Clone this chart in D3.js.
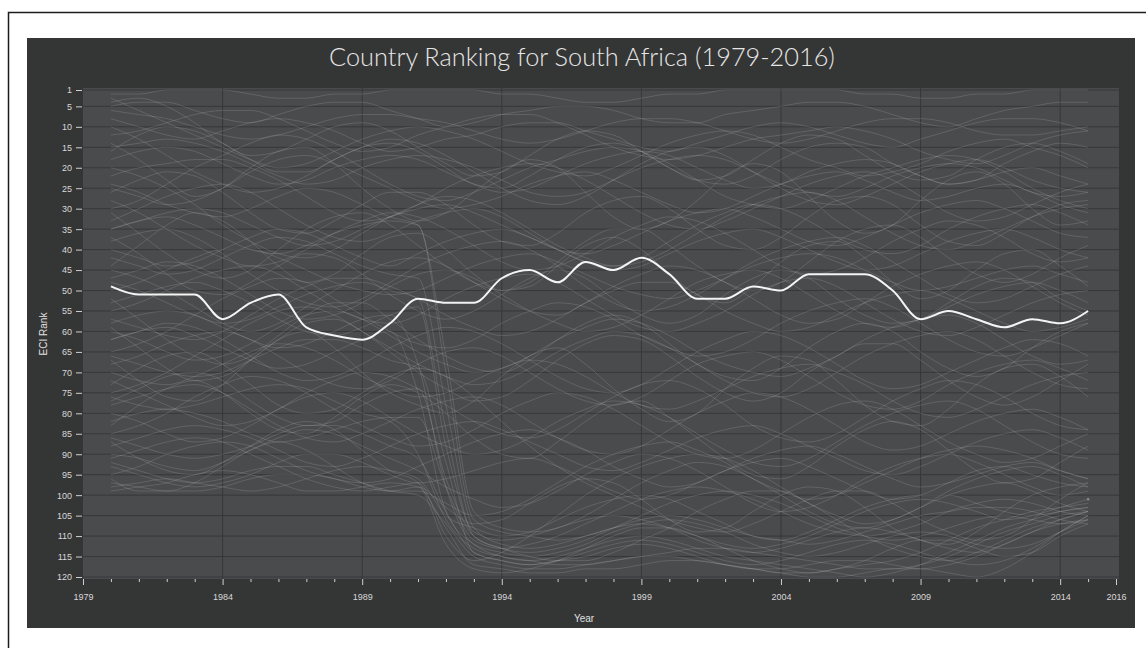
<!DOCTYPE html>
<html>
<head>
<meta charset="utf-8">
<script src="https://cdn.jsdelivr.net/npm/d3@7"></script>
<style>
  body { margin: 0; background: #fff; }
  #graph svg { display: block; }
  .axis text { font-family: 'Liberation Sans', Arial, sans-serif; font-size: 9px; fill: #d8d8d8; }
  .axis line { stroke: #cfcfcf; }
  .axis path { display: none; }
</style>
</head>
<body>
<div id="graph"></div>
<script>
'use strict';

let WIDTH = 1146;
let HEIGHT = 648;
let PLOT = { left: 83, right: 1119, top: 88, bottom: 579 };

let TITLE = 'Country Ranking for South Africa (1979-2016)';

let years = [1980, 1981, 1982, 1983, 1984, 1985, 1986, 1987, 1988, 1989,
             1990, 1991, 1992, 1993, 1994, 1995, 1996, 1997, 1998, 1999,
             2000, 2001, 2002, 2003, 2004, 2005, 2006, 2007, 2008, 2009,
             2010, 2011, 2012, 2013, 2014, 2015];

// South Africa, ECI rank per year
let southAfrica = [49, 51, 51, 51, 57, 53, 51, 59, 61, 62,
                   58, 52, 53, 53, 47, 45, 48, 43, 45, 42,
                   46, 52, 52, 49, 50, 46, 46, 46, 50, 57,
                   55, 57, 59, 57, 58, 55];

// the other countries, same years
let otherCountries = [
  [2,2,1,1,1,2,3,3,2,2,1,1,1,1,2,2,3,4,4,3,2,2,1,1,1,1,1,2,2,3,3,2,2,1,1,1],
  [5,4,4,6,8,9,7,5,4,4,6,8,10,9,7,6,5,5,6,8,9,9,7,6,5,4,4,5,7,9,10,8,6,5,4,4],
  [8,10,12,13,11,9,8,9,11,14,16,15,13,12,10,9,9,11,13,15,16,14,12,10,9,10,12,14,15,13,11,9,8,8,9,11],
  [12,11,9,7,6,6,8,11,14,16,15,12,10,8,7,7,9,12,15,17,18,17,15,13,12,11,10,11,13,16,18,19,17,14,12,11],
  [18,16,15,16,19,22,24,23,20,18,17,18,21,24,26,25,22,19,17,16,17,20,23,25,24,21,19,18,19,22,24,23,21,20,22,24],
  [25,27,29,28,25,21,18,17,19,22,25,28,30,29,27,24,22,21,23,26,29,31,30,27,24,22,21,23,26,28,27,25,24,26,29,31],
  [3,6,9,12,15,18,20,19,16,13,11,10,11,13,16,19,21,22,20,17,14,12,11,12,15,18,20,22,21,19,16,14,13,15,17,20],
  [30,28,24,20,17,14,12,13,16,20,24,27,28,26,23,20,18,16,15,16,19,23,27,29,30,28,25,22,20,18,17,18,21,25,28,30],
  [35,33,31,30,31,34,37,39,38,35,32,30,29,31,34,37,40,41,39,36,33,31,30,32,35,38,39,37,34,31,29,28,30,33,36,37],
  [40,42,44,43,40,37,35,36,39,42,44,41,38,36,35,37,40,43,45,44,41,38,36,35,37,40,43,45,44,41,38,36,35,37,40,42],
  [45,47,50,54,58,60,58,54,50,46,43,42,44,48,52,55,56,53,49,46,44,45,48,52,56,58,57,53,49,46,44,43,45,49,53,56],
  [55,53,50,47,45,44,46,50,54,57,58,56,52,49,47,46,48,52,56,59,60,58,55,51,48,47,49,53,57,60,61,59,56,53,51,50],
  [60,62,65,67,66,63,59,56,55,57,61,65,68,70,69,66,62,59,57,58,61,65,68,70,71,69,66,62,59,57,56,58,62,66,68,67],
  [65,63,60,56,52,49,47,48,52,56,60,63,64,62,58,55,53,54,57,61,64,66,65,62,58,55,53,52,54,58,62,65,66,64,61,58],
  [70,72,73,71,68,65,63,64,67,71,74,76,75,72,69,67,68,71,75,78,79,77,74,71,69,68,70,73,77,80,81,79,76,73,71,70],
  [38,36,35,37,41,46,50,53,54,52,48,44,41,39,38,40,44,49,53,55,54,51,47,43,40,38,37,39,43,47,51,53,52,49,46,44],
  [75,73,70,66,62,58,55,54,56,60,64,68,71,73,72,69,65,62,60,61,64,68,72,75,76,74,70,66,63,61,60,62,66,70,73,74],
  [50,48,45,42,40,40,42,45,48,50,51,50,47,44,42,41,43,46,49,51,52,50,47,44,42,41,42,45,48,50,49,47,45,44,46,48],
  [28,31,35,39,42,44,43,40,36,33,31,32,35,39,43,45,44,41,37,34,32,33,36,40,44,46,45,42,38,35,33,34,37,41,43,42],
  [62,60,58,59,62,66,70,72,71,68,64,61,59,60,63,67,71,74,75,73,69,65,62,60,61,64,68,72,74,73,70,67,64,62,63,66],
  [80,82,85,87,86,83,79,76,75,77,81,85,88,90,89,86,82,79,77,78,81,85,89,92,93,91,87,83,80,78,77,79,83,87,90,91],
  [85,83,80,76,73,71,72,75,79,83,86,88,87,84,80,77,75,76,79,83,87,90,91,89,85,81,78,77,79,83,87,90,92,91,88,85],
  [90,91,93,94,92,89,86,84,85,88,91,94,98,101,103,102,99,95,92,90,91,94,98,102,104,103,100,96,93,91,90,92,95,98,100,99],
  [95,93,90,88,87,88,91,94,96,97,96,93,90,87,85,84,86,89,93,96,98,97,94,91,89,88,90,93,96,98,97,95,93,92,94,96],
  [72,75,78,81,83,82,79,75,72,70,71,74,78,82,85,86,84,80,76,73,72,74,78,83,86,87,85,81,77,74,72,73,76,80,83,84],
  [78,76,74,73,75,79,83,86,87,85,82,79,77,76,78,82,86,89,90,88,84,80,77,75,76,79,83,87,89,88,85,82,80,79,81,84],
  [98,97,96,97,98,99,98,96,94,93,94,96,105,108,110,109,106,103,101,100,101,104,107,110,111,109,106,103,101,100,100,102,104,105,104,103],
  [88,86,84,83,84,86,89,92,93,91,88,85,83,82,84,87,90,93,94,92,89,86,84,83,85,88,91,94,95,93,90,87,85,84,86,89],
  [68,66,63,61,60,62,66,70,73,74,72,68,65,64,66,70,74,77,78,76,72,68,66,65,67,71,75,78,79,77,73,70,68,67,69,72],
  [93,95,97,98,97,95,92,90,90,92,95,97,96,94,92,91,93,96,99,101,100,97,94,92,91,93,96,99,101,100,97,94,93,95,97,98],
  [20,22,25,29,34,38,41,42,40,36,32,29,27,28,31,35,39,42,44,43,40,36,32,29,27,26,28,32,36,39,40,38,35,32,30,29],
  [10,13,17,21,24,26,25,22,18,15,13,14,17,21,25,28,29,27,23,19,16,15,17,21,25,28,29,27,24,21,19,18,20,23,25,26],
  [33,30,27,25,24,26,30,34,37,38,36,33,31,30,32,36,40,43,44,42,38,34,31,29,30,33,37,40,41,39,35,32,30,29,31,34],
  [47,45,43,44,47,51,55,57,56,53,49,46,45,47,51,55,58,60,59,56,52,48,46,45,47,51,55,58,59,57,54,51,49,48,50,53],
  [57,59,61,62,60,56,52,49,47,47,49,52,56,59,61,60,57,53,50,48,48,51,55,58,60,59,56,53,51,50,52,55,58,60,59,57],
  [97,98,99,99,98,96,95,95,96,98,99,99,102,105,104,101,97,93,90,88,87,89,92,96,99,101,100,97,94,91,89,88,89,91,94,96],
  [91,89,87,86,87,90,93,96,98,99,98,97,110,116,114,110,105,100,96,93,91,90,91,94,98,102,105,107,106,103,99,96,94,93,95,98],
  [15,14,13,14,16,19,22,24,23,20,18,17,18,20,23,26,27,26,23,20,18,17,18,21,24,26,27,25,22,20,19,20,23,26,27,26],
  [6,7,8,10,12,13,12,10,8,7,7,8,9,11,13,14,13,11,9,8,8,9,11,13,14,13,11,9,8,8,9,11,12,12,11,10],
  [22,20,19,18,18,20,23,27,31,33,32,29,25,22,20,19,20,23,27,31,34,35,33,30,27,24,22,21,23,27,31,33,32,29,26,24],
  [42,44,46,45,42,39,37,38,41,44,46,47,78,108,112,113,112,110,108,107,108,110,112,113,112,110,107,104,102,101,102,104,106,105,103,101],
  [35,33,32,34,37,40,41,39,36,34,33,34,70,106,109,110,111,110,108,106,105,106,108,110,111,112,111,109,107,105,104,103,103,104,106,107],
  [58,56,55,56,59,62,64,63,60,57,56,68,98,112,114,115,114,112,109,107,106,107,109,112,114,115,114,112,110,109,110,112,113,112,109,106],
  [66,68,70,71,70,67,64,62,62,64,67,69,92,114,116,117,116,114,112,111,112,114,116,117,116,114,112,111,112,114,116,117,116,113,109,105],
  [48,50,53,56,58,57,54,51,49,48,50,52,84,110,113,114,113,111,108,105,102,100,99,100,102,105,108,110,111,110,108,106,105,106,107,106],
  [76,78,79,78,76,74,73,74,77,80,82,90,106,113,115,116,117,117,116,115,114,113,113,114,115,116,117,118,118,117,115,112,109,107,105,104],
  [82,80,79,80,82,85,87,86,84,82,81,81,98,111,113,112,110,107,104,101,99,98,99,101,104,107,109,110,109,107,104,102,101,102,104,105],
  [24,26,29,31,32,30,27,25,26,29,32,34,66,104,108,109,108,105,101,97,94,92,93,96,100,104,107,108,106,103,100,98,97,99,102,104],
  [92,94,96,97,96,94,93,93,95,97,99,100,107,115,117,118,118,117,116,115,115,116,117,118,119,119,118,117,116,114,111,108,106,104,103,102],
  [62,60,59,61,64,67,69,68,65,62,60,75,104,112,115,116,115,113,111,110,111,113,115,116,117,118,119,120,119,117,114,111,108,106,104,103],
  [53,51,49,48,50,53,57,60,61,59,56,54,88,109,111,110,108,106,105,106,108,111,113,114,113,111,109,108,109,111,113,114,112,109,106,104],
  [86,88,90,91,90,88,85,83,83,85,88,91,104,114,116,117,116,115,113,112,113,115,117,118,118,117,116,116,117,118,117,115,112,109,107,106],
  [14,18,23,27,25,20,16,15,19,25,30,33,31,26,21,18,20,26,32,35,33,28,22,19,21,27,33,36,34,28,23,21,24,30,34,33],
  [44,39,34,31,33,38,44,48,46,41,37,36,40,46,50,49,44,39,37,40,46,51,53,49,43,39,38,42,48,52,50,45,41,40,44,49],
  [67,72,76,77,73,67,62,60,64,70,75,78,80,77,71,66,64,68,74,79,82,80,74,69,66,67,72,78,82,83,79,73,69,68,71,76],
  [83,78,74,72,75,80,84,85,81,76,73,75,80,86,90,91,87,82,78,77,81,86,91,95,96,93,88,84,82,84,89,94,97,96,92,88],
  [96,99,99,97,93,89,87,89,93,97,99,98,103,107,106,102,98,96,97,101,106,109,108,104,100,98,99,103,108,111,112,109,104,100,98,97],
  [31,36,41,45,47,45,40,35,32,31,34,39,44,48,50,48,43,38,35,35,39,44,48,50,48,43,38,35,34,37,42,46,48,46,42,39],
  [52,57,62,66,68,66,61,56,53,53,57,62,66,69,70,67,62,58,56,58,63,68,71,72,69,64,60,58,60,65,69,71,69,64,60,58],
  [4,3,5,9,14,17,16,13,10,9,11,15,19,22,21,17,13,11,12,16,20,23,22,18,14,12,13,17,21,23,22,18,15,14,16,19],
  [73,69,66,65,68,73,78,80,79,75,71,69,71,76,82,88,93,97,100,103,106,108,109,107,104,101,99,99,102,106,109,111,110,106,101,97],
  [59,64,69,72,71,67,62,58,57,60,65,70,74,77,76,72,67,63,61,62,66,71,75,77,75,70,66,63,63,67,72,76,78,76,72,68],
  [87,91,94,95,92,88,84,82,84,89,94,97,112,118,119,118,116,113,110,108,108,110,113,116,118,119,118,116,113,111,111,113,115,114,110,107],
  [16,12,10,11,14,18,21,21,18,15,14,16,20,24,25,22,18,15,14,16,20,23,24,22,18,15,14,15,19,22,24,23,19,16,14,15],
  [37,41,46,50,51,48,44,41,42,46,51,55,57,55,51,47,45,47,52,56,58,56,51,47,45,47,52,56,58,57,53,49,47,48,52,55],
  [77,74,71,70,72,77,81,83,82,78,75,74,96,110,113,115,116,116,114,111,108,104,101,99,99,102,106,110,113,115,116,114,111,108,106,104],
  [99,98,97,95,94,95,97,99,99,98,97,98,108,117,118,119,119,118,118,117,116,116,117,118,119,120,120,119,118,118,119,120,118,114,109,105],
  [26,23,21,22,26,31,35,36,33,29,26,26,29,34,38,39,36,31,28,27,30,35,39,40,37,32,28,27,29,34,38,39,36,32,29,28]
];

// one country that only shows up in the last year
let loneYear = [2015];
let loneRank = [101];

let yTicks = [1, 5, 10, 15, 20, 25, 30, 35, 40, 45, 50, 55, 60,
              65, 70, 75, 80, 85, 90, 95, 100, 105, 110, 115, 120];
let xTicks = [1979, 1980, 1981, 1982, 1983, 1984, 1985, 1986, 1987, 1988, 1989,
              1990, 1991, 1992, 1993, 1994, 1995, 1996, 1997, 1998, 1999,
              2000, 2001, 2002, 2003, 2004, 2005, 2006, 2007, 2008, 2009,
              2010, 2011, 2012, 2013, 2014, 2015, 2016];
let xLabels = [1979, 1984, 1989, 1994, 1999, 2004, 2009, 2014, 2016];
let xGrid = [1984, 1989, 1994, 1999, 2004, 2009, 2014];


function visualize () {
    let svg = d3.select('#graph')
        .append('svg')
        .attr('width', WIDTH)
        .attr('height', HEIGHT);

    drawFrame(svg);
    let scales = drawAxes(svg);
    plotLines(svg, scales);
    makeLabels(svg);
}

function drawFrame (svg) {
    svg.append('rect')
        .attr('x', 8.5).attr('y', 12.5)
        .attr('width', 1160).attr('height', 660)
        .attr('fill', '#fff')
        .attr('stroke', '#1c1c1c')
        .attr('stroke-width', 1.5);

    svg.append('rect')
        .attr('x', 27).attr('y', 38)
        .attr('width', 1108).attr('height', 590)
        .attr('fill', '#343535');

    svg.append('rect')
        .attr('x', PLOT.left).attr('y', PLOT.top)
        .attr('width', PLOT.right - PLOT.left)
        .attr('height', PLOT.bottom - PLOT.top)
        .attr('fill', '#4a4b4c');
}

function drawAxes (svg) {
    let xScale = d3.scaleLinear()
        .domain([1979, 2016])
        .range([PLOT.left, 1116]);

    let yScale = d3.scaleLinear()
        .domain([1, 120])
        .range([90, 577]);

    // grid
    svg.append('g')
        .selectAll('line')
        .data(yTicks)
        .enter()
        .append('line')
        .attr('x1', PLOT.left).attr('x2', PLOT.right)
        .attr('y1', d => yScale(d)).attr('y2', d => yScale(d))
        .attr('stroke', '#37383a')
        .attr('stroke-width', 1);

    svg.append('g')
        .selectAll('line')
        .data(xGrid)
        .enter()
        .append('line')
        .attr('x1', d => xScale(d)).attr('x2', d => xScale(d))
        .attr('y1', PLOT.top).attr('y2', PLOT.bottom)
        .attr('stroke', '#37383a')
        .attr('stroke-width', 1);

    let xAxis = d3.axisBottom(xScale)
        .tickValues(xTicks)
        .tickSizeOuter(0)
        .tickPadding(9)
        .tickFormat(d => xLabels.includes(d) ? d : '');

    let gx = svg.append('g')
        .attr('class', 'axis')
        .attr('transform', 'translate(0, ' + PLOT.bottom + ')')
        .call(xAxis);

    gx.selectAll('.tick line')
        .attr('y2', d => xLabels.includes(d) ? 6 : 3)
        .attr('stroke', d => xLabels.includes(d) ? '#e0e0e0' : '#bdbdbd');

    let yAxis = d3.axisLeft(yScale)
        .tickValues(yTicks)
        .tickSize(6)
        .tickSizeOuter(0)
        .tickPadding(4);

    svg.append('g')
        .attr('class', 'axis')
        .attr('transform', 'translate(' + (PLOT.left - 1) + ', 0)')
        .call(yAxis);

    return { xScale: xScale, yScale: yScale };
}

function plotLines (svg, f) {
    let line = d3.line()
        .x((d, i) => f.xScale(years[i]))
        .y(d => f.yScale(d))
        .curve(d3.curveMonotoneX);

    svg.append('g')
        .selectAll('path')
        .data(otherCountries)
        .enter()
        .append('path')
        .attr('d', line)
        .attr('fill', 'none')
        .attr('stroke', '#d6d6d6')
        .attr('stroke-opacity', 0.17)
        .attr('stroke-width', 1);

    svg.append('g')
        .selectAll('circle')
        .data(loneRank)
        .enter()
        .append('circle')
        .attr('cx', (d, i) => f.xScale(loneYear[i]))
        .attr('cy', d => f.yScale(d))
        .attr('r', 1.3)
        .attr('fill', '#8a8a8a');

    svg.append('path')
        .datum(southAfrica)
        .attr('d', line)
        .attr('fill', 'none')
        .attr('stroke', '#f4f4f4')
        .attr('stroke-width', 2);
}

function makeLabels (svg) {
    let title = svg.append('text')
        .attr('x', 582)
        .attr('y', 66)
        .attr('text-anchor', 'middle')
        .style('font-family', 'Lato, "Open Sans", sans-serif')
        .style('font-weight', 300)
        .style('font-size', '24px')
        .style('fill', '#e6e6e6')
        .text(TITLE);

    // fit the title to the width it takes in the original
    let w = title.node().getComputedTextLength();
    title.style('font-size', (24 * 506 / w).toFixed(2) + 'px');

    svg.append('text')
        .attr('x', 584)
        .attr('y', 622)
        .attr('text-anchor', 'middle')
        .style('font-family', '"Liberation Sans", Arial, sans-serif')
        .style('font-size', '10px')
        .style('fill', '#e0e0e0')
        .text('Year');

    svg.append('text')
        .attr('transform', 'translate(47, 334) rotate(-90)')
        .attr('text-anchor', 'middle')
        .style('font-family', '"Liberation Sans", Arial, sans-serif')
        .style('font-size', '10px')
        .style('fill', '#e0e0e0')
        .text('ECI Rank');
}

visualize();
</script>
</body>
</html>
